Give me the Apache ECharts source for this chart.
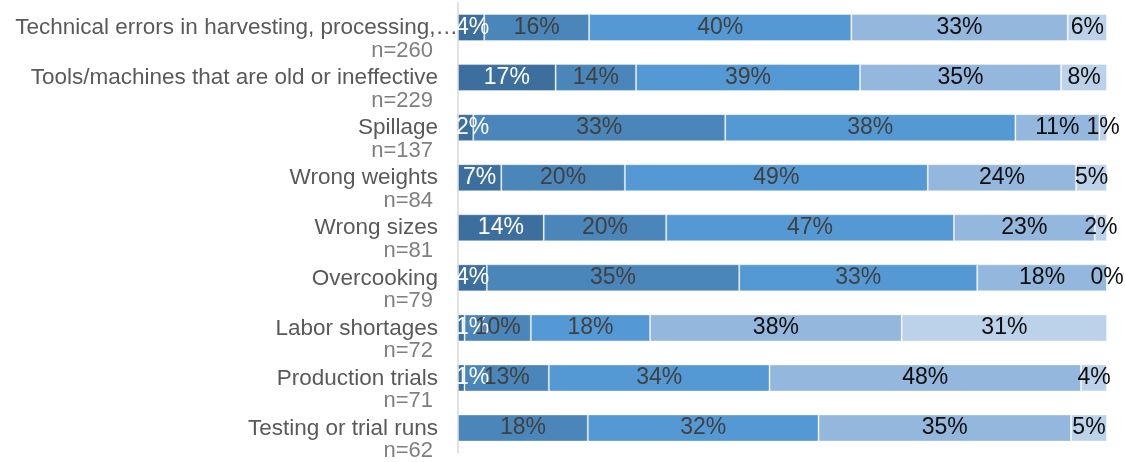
<!DOCTYPE html>
<html>
<head>
<meta charset="utf-8">
<script src="https://cdn.jsdelivr.net/npm/echarts@6/dist/echarts.min.js"></script>
<style>
  html, body { margin: 0; padding: 0; background: #ffffff; }
  #chart { width: 1125px; height: 462px; }
</style>
</head>
<body>
<div id="chart"></div>
<script>
// Reasons given, one row each (top to bottom)
const categories = [
  "Technical errors in harvesting, processing,…",
  "Tools/machines that are old or ineffective",
  "Spillage",
  "Wrong weights",
  "Wrong sizes",
  "Overcooking",
  "Labor shortages",
  "Production trials",
  "Testing or trial runs"
];
// Respondents per row
const respondents = [260, 229, 137, 84, 81, 79, 72, 71, 62];

// Answer shares (%) per row, darkest shade first
const shareLevel1 = [4, 17, 2, 7, 14, 4, 1, 1, null];
const shareLevel2 = [16, 14, 33, 20, 20, 35, 10, 13, 18];
const shareLevel3 = [40, 39, 38, 49, 47, 33, 18, 34, 32];
const shareLevel4 = [33, 35, 11, 24, 23, 18, 38, 48, 35];
const shareLevel5 = [6, 8, 1, 5, 2, 0, 31, 4, 5];

const levels = [shareLevel1, shareLevel2, shareLevel3, shareLevel4, shareLevel5];
const fills = ['#3d6f9e', '#4a86ba', '#5499d4', '#94b7dd', '#bcd2ea'];
const labelColors = ['#ffffff', '#404040', '#404040', '#0d0d0d', '#0d0d0d'];

// Each bar is stretched to the full width: segment length = share / row total
const rowTotals = categories.map((_, i) =>
  levels.reduce((s, arr) => s + (arr[i] == null ? 0 : arr[i]), 0));

const FONT = '"Liberation Sans", Arial, sans-serif';
const PLOT_LEFT = 458;

const series = levels.map((arr, k) => ({
  type: 'bar',
  stack: 'all',
  barWidth: 27,
  clip: false,
  data: arr.map((v, i) => v == null ? null : { value: v / rowTotals[i], share: v }),
  itemStyle: {
    color: fills[k],
    borderColor: 'rgba(255,255,255,0.35)',
    borderWidth: 1
  },
  label: {
    show: true,
    position: 'inside',
    fontFamily: FONT,
    fontSize: 23,
    color: labelColors[k],
    offset: [0, 1],
    formatter: p => p.data && p.data.share != null ? p.data.share + '%' : ''
  },
  // keep value labels from spilling left of the axis
  labelLayout: p => {
    const r = p.labelRect;
    return r && r.x < PLOT_LEFT - 2 ? { dx: PLOT_LEFT - 2 - r.x } : {};
  },
  emphasis: { disabled: true }
}));

const chart = echarts.init(document.getElementById('chart'), null, { renderer: 'canvas' });
chart.setOption({
  animation: false,
  backgroundColor: '#ffffff',
  grid: { left: PLOT_LEFT, right: 18, top: 2.5, bottom: 8.6, containLabel: false },
  xAxis: {
    type: 'value',
    min: 0,
    max: 1,
    show: false,
    splitLine: { show: false }
  },
  yAxis: {
    type: 'category',
    inverse: true,
    data: categories,
    axisLine: { show: true, lineStyle: { color: '#d9d9d9', width: 1.5 } },
    axisTick: { show: false },
    splitLine: { show: false },
    axisLabel: {
      margin: 0,
      verticalAlign: 'top',
      showMinLabel: true,
      showMaxLabel: true,
      hideOverlap: false,
      fontFamily: FONT,
      // name line sits on the bar's centre, respondent count just below it
      formatter: (val, idx) =>
        '{' + (idx === 0 ? 'first' : 'name') + '|' + val + '}\n{n|n=' + respondents[idx] + '}',
      rich: {
        name: { fontFamily: FONT, fontSize: 22.5, color: '#595959', lineHeight: 1, padding: [0, 20, 0, 0] },
        first: { fontFamily: FONT, fontSize: 22.5, color: '#595959', lineHeight: 1, padding: [0, 0, 0, 0] },
        n: { fontFamily: FONT, fontSize: 22, color: '#7f7f7f', lineHeight: 44, padding: [0, 25, 0, 0] }
      }
    }
  },
  series: series
});
</script>
</body>
</html>
